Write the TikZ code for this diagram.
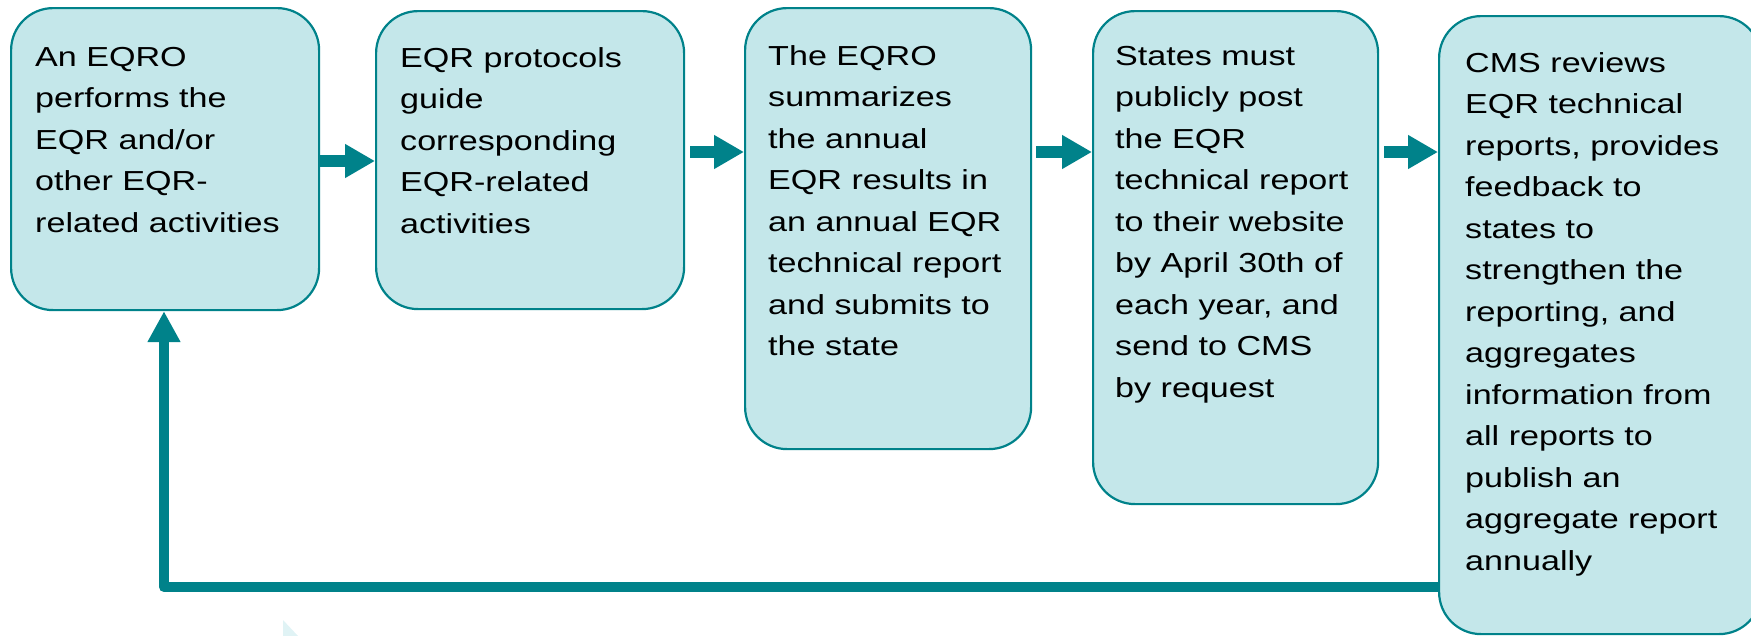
\documentclass[tikz,border=0pt]{standalone}
\usepackage{fontspec}
\setmainfont{Liberation Sans}[FakeStretch=1.24]
\usetikzlibrary{arrows.meta}
\definecolor{teal1}{RGB}{0,130,138}
\definecolor{boxfill}{RGB}{196,231,234}
\definecolor{ghost}{RGB}{224,243,245}
\begin{document}
\begin{tikzpicture}[x=1pt,y=-1pt,
  stepbox/.style={draw=teal1, line width=2.2pt, fill=boxfill, rounded corners=42pt, inner sep=0pt, anchor=north west},
  txt/.style={anchor=north west, inner sep=0pt, align=left, font=\fontsize{27.5}{41.5}\selectfont},
  flow/.style={draw=teal1, line width=12pt, -{Triangle[length=30pt,width=32pt]}},
  backflow/.style={draw=teal1, line width=10pt, line join=round, -{Triangle[length=31pt,width=31pt]}}]
\clip (0,0) rectangle (1751,635);
\fill[ghost] (283,620) -- (283,636) -- (298,636) -- cycle;
\node[stepbox, minimum width=308pt, minimum height=302pt] (b1) at (10,7) {};
\node[stepbox, minimum width=308pt, minimum height=298pt] (b2) at (375,10) {};
\node[stepbox, minimum width=286pt, minimum height=441pt] (b3) at (744,7) {};
\node[stepbox, minimum width=285pt, minimum height=493pt] (b4) at (1092,10) {};
\node[stepbox, minimum width=322pt, minimum height=618pt] (b5) at (1438,15) {};
\node[txt] (t1) at (35,46) {\rule{0pt}{20pt}An EQRO\\performs the\\EQR and/or\\other EQR-\\related activities};
\node[txt] (t2) at (400,47) {\rule{0pt}{20pt}EQR protocols\\guide\\corresponding\\EQR-related\\activities};
\node[txt] (t3) at (768,45) {\rule{0pt}{20pt}The EQRO\\summarizes\\the annual\\EQR results in\\an annual EQR\\technical report\\and submits to\\the state};
\node[txt] (t4) at (1115,45) {\rule{0pt}{20pt}States must\\publicly post\\the EQR\\technical report\\to their website\\by April 30th of\\each year, and\\send to CMS\\by request};
\node[txt] (t5) at (1465,52) {\rule{0pt}{20pt}CMS reviews\\EQR technical\\reports, provides\\feedback to\\states to\\strengthen the\\reporting, and\\aggregates\\information from\\all reports to\\publish an\\aggregate report\\annually};
\coordinate (r1) at (0,161);
\coordinate (r2) at (0,152);
\draw[flow] (b1.east |- r1) -- (b2.west |- r1);
\draw[flow, shorten <=5pt] (b2.east |- r2) -- (b3.west |- r2);
\draw[flow, shorten <=4pt] (b3.east |- r2) -- (b4.west |- r2);
\draw[flow, shorten <=5pt] (b4.east |- r2) -- (b5.west |- r2);
\coordinate (fb) at (164,587);
\draw[backflow] (b5.west |- fb) -- (fb) -- (b1.south -| fb);
\end{tikzpicture}
\end{document}
